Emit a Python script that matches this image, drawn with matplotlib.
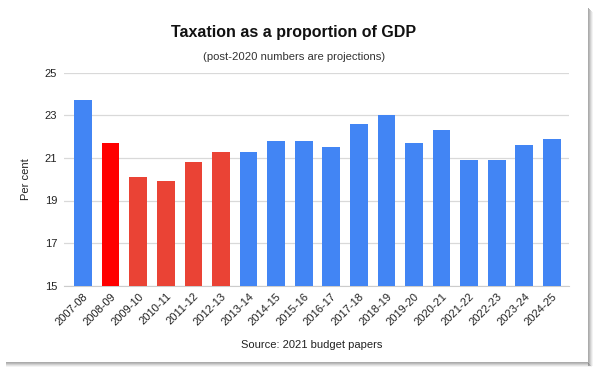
import matplotlib.pyplot as plt
from matplotlib.patches import Rectangle

plt.rcParams['font.family'] = ['Liberation Sans', 'DejaVu Sans']

years = ['2007-08', '2008-09', '2009-10', '2010-11', '2011-12', '2012-13',
         '2013-14', '2014-15', '2015-16', '2016-17', '2017-18', '2018-19',
         '2019-20', '2020-21', '2021-22', '2022-23', '2023-24', '2024-25']
values = [23.7, 21.7, 20.1, 19.9, 20.8, 21.3, 21.3, 21.8, 21.8, 21.5,
          22.6, 23.0, 21.7, 22.3, 20.9, 20.9, 21.6, 21.9]
bar_colors = ['#4285F4', '#FF0000', '#EA4335', '#EA4335', '#EA4335', '#EA4335'] + ['#4285F4'] * 12
yticks = [15, 17, 19, 21, 23, 25]

fig = plt.figure(figsize=(6, 3.75), dpi=100)

# drop shadow around the chart box
for i, a in enumerate([0.55, 0.45, 0.3, 0.18, 0.08]):
    fig.patches.append(Rectangle(((588 + i) / 600, (375 - 366) / 375), 1 / 600, (366 - 8 - i) / 375,
                                 transform=fig.transFigure, color='#666666', alpha=a, lw=0))
    fig.patches.append(Rectangle((6 / 600, (375 - 363 - i) / 375), (582 + i) / 600, 1 / 375,
                                 transform=fig.transFigure, color='#666666', alpha=a, lw=0))

ax = fig.add_axes([64 / 600, 1 - 285.7 / 375, 505 / 600, 213 / 375])
x = range(len(years))
ax.bar(x, values, width=0.64, color=bar_colors, bottom=0, zorder=3)

ax.set_ylim(15, 25)
ax.set_xlim(-0.69, 17.62)
ax.set_yticks(yticks)
ax.set_xticks(list(x))
ax.set_xticklabels(years, rotation=45, ha='right', rotation_mode='anchor')
ax.tick_params(axis='both', length=0, labelsize=8, colors='#222222')
ax.tick_params(axis='x', pad=4)
ax.tick_params(axis='y', pad=5)
ax.grid(axis='y', color='#d9d9d9', lw=0.9, zorder=0)
for s in ['top', 'right', 'left']:
    ax.spines[s].set_visible(False)
ax.spines['bottom'].set_color('#cccccc')

ax.set_ylabel('Per cent', fontsize=8, color='#222222', labelpad=10)

fig.text(0.49, 1 - 32 / 375, 'Taxation as a proportion of GDP', ha='center', va='center',
         fontsize=11.5, fontweight='bold', color='#111111')
fig.text(0.49, 1 - 57 / 375, '(post-2020 numbers are projections)', ha='center', va='center',
         fontsize=8.1, color='#333333')
fig.text(0.52, 1 - 345 / 375, 'Source: 2021 budget papers', ha='center', va='center',
         fontsize=8, color='#222222')

fig.savefig('out.png', dpi=100, facecolor='white')
